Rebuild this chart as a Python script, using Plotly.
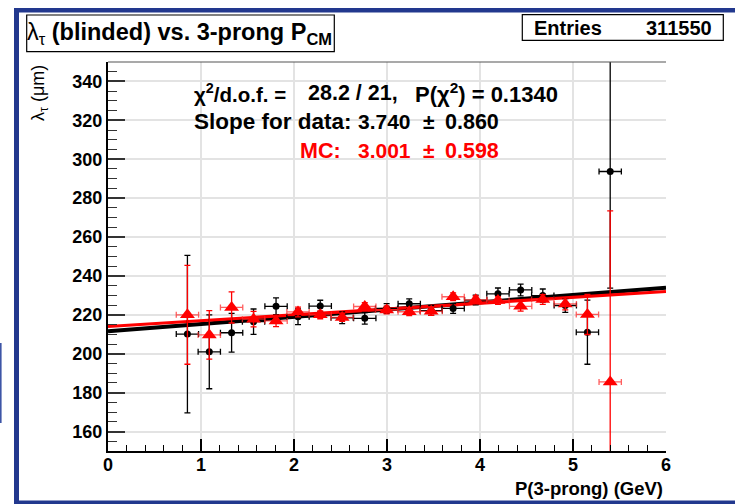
import plotly.graph_objects as go

# ---------------- data ----------------
p_bins = [0.854, 1.089, 1.329, 1.565, 1.807, 2.043, 2.282, 2.518, 2.761, 2.996,
          3.239, 3.475, 3.711, 3.954, 4.193, 4.437, 4.675, 4.917, 5.155, 5.400]
p_halfwidth = [0.12] * len(p_bins)

data_lambda = [210.1, 201.0, 210.8, 216.5, 224.4, 219.0, 224.5, 218.5, 218.2, 223.3,
               225.7, 222.2, 223.3, 227.6, 230.8, 232.8, 229.9, 224.8, 211.1, 293.7]
data_err = [40.5, 19.0, 10.0, 6.5, 4.3, 4.0, 3.0, 3.0, 3.0, 2.5,
            2.5, 2.5, 2.5, 2.5, 3.0, 3.0, 3.4, 3.5, 16.5, 60.0]

mc_lambda = [220.0, 209.7, 223.8, 217.8, 216.9, 221.5, 220.0, 218.7, 224.3, 222.5,
             221.6, 221.8, 229.3, 227.7, 227.4, 224.4, 227.9, 225.6, 220.2, 185.5]
mc_err = [25.4, 12.5, 8.0, 4.0, 3.0, 2.5, 2.0, 2.0, 2.0, 2.0,
          2.0, 2.0, 2.0, 2.0, 2.0, 2.5, 2.5, 3.0, 10.3, 88.0]

fit_data = {"intercept": 211.5, "slope": 3.740}
fit_mc = {"intercept": 214.0, "slope": 3.001}
fit_x = [0.0, 6.0]

x_range = [0, 6]
y_range = [150, 350]

# ---------------- geometry helpers ----------------
W, H = 735, 504
L, R, T, B = 108, 666, 62, 451


def px(x):
    return (x - L) / (R - L)


def py(y):
    return (B - y) / (B - T)


FONT = "Liberation Sans, Arial, Helvetica, sans-serif"
BLUE = "#22388e"

fig = go.Figure()

# fit lines
fig.add_trace(go.Scatter(
    x=fit_x, y=[fit_data["intercept"] + fit_data["slope"] * v for v in fit_x],
    mode="lines", line=dict(color="black", width=4), showlegend=False, hoverinfo="skip"))
fig.add_trace(go.Scatter(
    x=fit_x, y=[fit_mc["intercept"] + fit_mc["slope"] * v for v in fit_x],
    mode="lines", line=dict(color="#ff0000", width=3.2), showlegend=False, hoverinfo="skip"))

# data points
fig.add_trace(go.Scatter(
    x=p_bins, y=data_lambda, mode="markers",
    marker=dict(symbol="circle", size=7, color="black"),
    error_y=dict(type="data", array=data_err, visible=True, color="black", thickness=1.3, width=3),
    error_x=dict(type="data", array=p_halfwidth, visible=True, color="black", thickness=1.3, width=3),
    showlegend=False))

# MC points
fig.add_trace(go.Scatter(
    x=p_bins, y=mc_lambda, mode="markers",
    marker=dict(symbol="triangle-up", size=13, color="#ff0000"),
    error_y=dict(type="data", array=mc_err, visible=True, color="#ff0000", thickness=1.3, width=3),
    error_x=dict(type="data", array=p_halfwidth, visible=True, color="rgba(255,40,40,0.75)", thickness=1.3, width=3),
    showlegend=False))

shapes = []
# blue canvas frame
shapes.append(dict(type="rect", xref="paper", yref="paper", x0=px(14), x1=px(19), y0=py(504), y1=py(8),
                   fillcolor=BLUE, line=dict(width=0), layer="above"))
shapes.append(dict(type="rect", xref="paper", yref="paper", x0=px(14), x1=px(735), y0=py(12.5), y1=py(8),
                   fillcolor=BLUE, line=dict(width=0), layer="above"))
shapes.append(dict(type="rect", xref="paper", yref="paper", x0=px(14), x1=px(735), y0=py(504), y1=py(500.5),
                   fillcolor=BLUE, line=dict(width=0), layer="above"))
shapes.append(dict(type="rect", xref="paper", yref="paper", x0=px(0), x1=px(1.6), y0=py(423), y1=py(343),
                   fillcolor="#3d55a6", line=dict(width=0), layer="above"))
# plot frame top line
shapes.append(dict(type="line", xref="paper", yref="paper", x0=0, x1=1, y0=1, y1=1,
                   line=dict(color="#555555", width=1.2), layer="above"))
# title box & stats box
shapes.append(dict(type="rect", xref="paper", yref="paper", x0=px(26.7), x1=px(334.3), y0=py(51.7), y1=py(15),
                   fillcolor="white", line=dict(color="black", width=1.2), layer="above"))
shapes.append(dict(type="rect", xref="paper", yref="paper", x0=px(522.3), x1=px(723.3), y0=py(40.3), y1=py(14.7),
                   fillcolor="white", line=dict(color="black", width=1.2), layer="above"))


def ann(text, x, y, size, color="black", xanchor="left", yanchor="middle", angle=0):
    return dict(text=text, xref="paper", yref="paper", x=px(x), y=py(y), xanchor=xanchor, yanchor=yanchor,
                showarrow=False, textangle=angle, font=dict(family=FONT, size=size, color=color))


annotations = [
    ann("λ<sub>τ</sub> <b>(blinded) vs. 3-prong P<sub>CM</sub></b>", 179, 33.5, 23.5, xanchor="center"),
    ann("<b>Entries</b>", 532, 27.5, 20),
    ann("<b>311550</b>", 714, 27.5, 20, xanchor="right"),
    ann("<b>χ<sup>2</sup>/d.o.f. =</b>", 192, 93, 20.5),
    ann("<b>28.2 / 21,</b>", 306, 93, 21.5),
    ann("<b>P(χ<sup>2</sup>) = 0.1340</b>", 413, 93, 22),
    ann("<b>Slope for data:</b>", 192, 121.5, 22.5),
    ann("<b>3.740</b>", 356, 121.5, 21),
    ann("<b>±</b>", 429, 121.5, 21, xanchor="center"),
    ann("<b>0.860</b>", 443, 121.5, 21.5),
    ann("<b>MC:</b>", 298, 150.5, 21.5, color="#ff0000"),
    ann("<b>3.001</b>", 356, 150.5, 21, color="#ff0000"),
    ann("<b>±</b>", 429, 150.5, 21, color="#ff0000", xanchor="center"),
    ann("<b>0.598</b>", 443, 150.5, 21.5, color="#ff0000"),
    ann("<b>P(3-prong) (GeV)</b>", 665, 488, 18.5, xanchor="right"),
    ann("λ<sub>τ</sub> (μm)", 39, 63, 18, xanchor="center", yanchor="top", angle=-90),
]

fig.update_layout(
    width=W, height=H, autosize=False,
    margin=dict(l=L, r=W - R, t=T, b=H - B, pad=0),
    paper_bgcolor="white", plot_bgcolor="white",
    shapes=shapes, annotations=annotations,
    font=dict(family=FONT, color="black"),
    xaxis=dict(
        range=x_range, dtick=1, tick0=0, showgrid=True, gridcolor="#e3e3e3", gridwidth=1.5,
        zeroline=False, showline=True, linecolor="black", linewidth=2,
        ticks="inside", ticklen=12, tickwidth=1.5, tickcolor="black",
        minor=dict(dtick=0.2, ticks="inside", ticklen=6, tickwidth=1.2, tickcolor="black", showgrid=False),
        tickfont=dict(family=FONT, size=18, color="black", weight="bold"),
        ticklabelstandoff=-4,
    ),
    yaxis=dict(
        range=y_range, dtick=20, tick0=0, showgrid=True, gridcolor="#e3e3e3", gridwidth=1.5,
        zeroline=False, showline=True, linecolor="black", linewidth=2,
        ticks="inside", ticklen=17, tickwidth=1.5, tickcolor="#333333",
        minor=dict(dtick=5, ticks="inside", ticklen=9, tickwidth=1.2, tickcolor="#333333", showgrid=False),
        tickfont=dict(family=FONT, size=18, color="black", weight="bold"),
    ),
)

fig.write_html("out.html")
